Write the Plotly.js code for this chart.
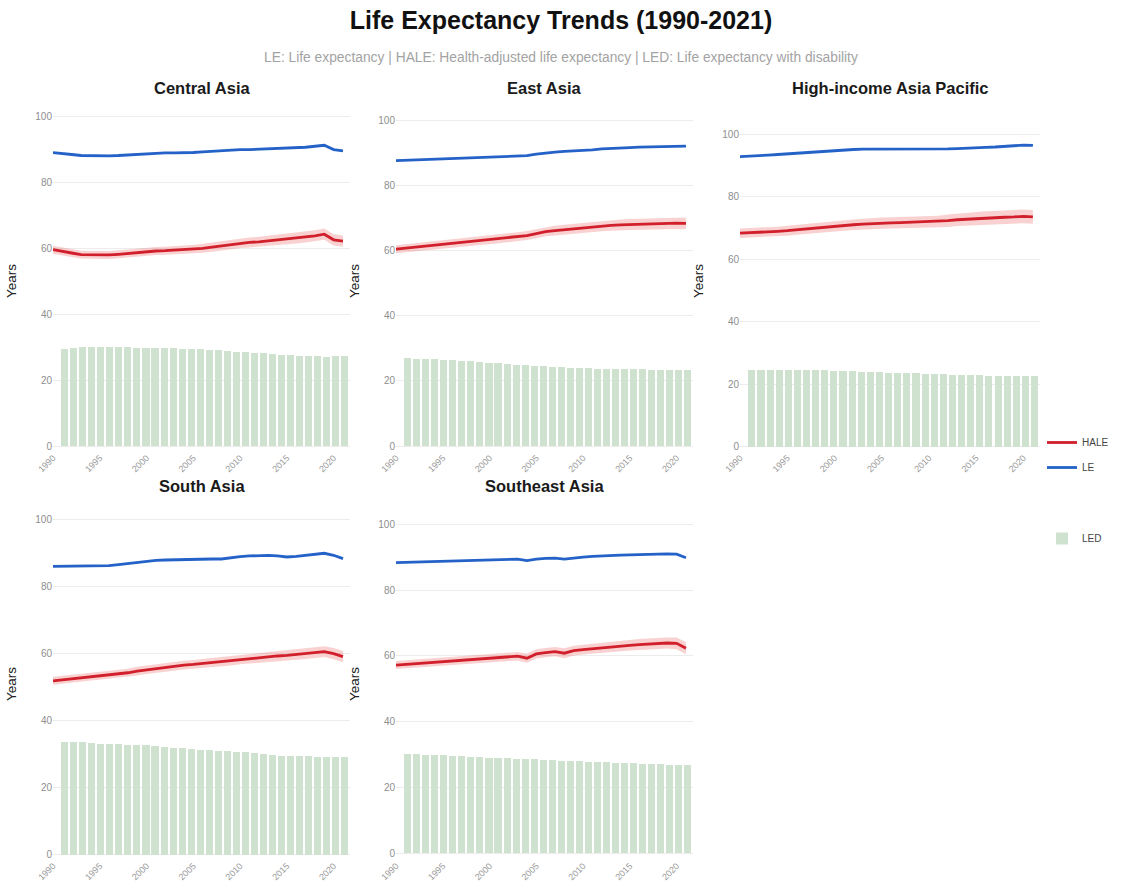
<!DOCTYPE html>
<html>
<head>
<meta charset="utf-8">
<script src="https://cdn.plot.ly/plotly-3.0.1.min.js"></script>
<style>
html,body{margin:0;padding:0;background:#ffffff;}
#chart{width:1122px;height:883px;}
</style>
</head>
<body>
<div id="chart"></div>
<script>
// ---------------- DATA ----------------
const years = [1990,1991,1992,1993,1994,1995,1996,1997,1998,1999,2000,2001,2002,2003,2004,2005,2006,2007,2008,2009,2010,2011,2012,2013,2014,2015,2016,2017,2018,2019,2020,2021];
const xTickVals = [1990,1995,2000,2005,2010,2015,2020];
const xTickText = ["1990","1995","2000","2005","2010","2015","2020"];
const yTickVals = [0,20,40,60,80,100];
const regionNames = ["Central Asia","East Asia","High-income Asia Pacific","South Asia","Southeast Asia"];

// Central Asia
const centralAsiaLE = [89.1,88.9,88.5,88.2,88.1,88.1,88.1,88.2,88.4,88.6,88.8,88.9,89.0,89.0,89.0,89.1,89.3,89.5,89.6,89.8,90.0,90.0,90.1,90.2,90.3,90.4,90.5,90.7,91.0,91.3,90.0,89.6];
const centralAsiaHALE = [59.6,59.2,58.6,58.1,58.0,58.0,58.0,58.2,58.5,58.8,59.0,59.2,59.3,59.5,59.6,59.7,60.0,60.4,60.8,61.2,61.5,61.8,62.0,62.3,62.6,62.8,63.1,63.4,63.8,64.3,62.6,62.2];
const centralAsiaHALELow = [58.4,58.0,57.4,56.9,56.8,56.8,56.8,57.0,57.3,57.6,57.8,58.0,58.1,58.2,58.3,58.4,58.7,59.0,59.4,59.8,60.1,60.3,60.5,60.8,61.0,61.2,61.5,61.8,62.1,62.6,60.9,60.5];
const centralAsiaHALEHigh = [60.8,60.4,59.8,59.3,59.2,59.2,59.2,59.4,59.7,60.0,60.2,60.4,60.5,60.8,60.9,61.0,61.3,61.8,62.2,62.6,62.9,63.3,63.5,63.8,64.2,64.4,64.7,65.0,65.5,66.0,64.3,63.9];
const centralAsiaLED = [29.6,29.8,30.0,30.1,30.1,30.1,30.1,30.0,29.9,29.8,29.8,29.7,29.7,29.5,29.4,29.4,29.3,29.1,28.8,28.6,28.5,28.2,28.1,27.9,27.7,27.6,27.4,27.3,27.2,27.1,27.2,27.2];

// East Asia
const eastAsiaLE = [87.6,87.7,87.8,87.9,88.0,88.1,88.2,88.3,88.4,88.5,88.6,88.7,88.8,88.9,89.1,89.6,90.0,90.2,90.4,90.5,90.7,90.9,91.2,91.4,91.5,91.6,91.7,91.8,91.8,91.9,92.0,92.0];
const eastAsiaHALE = [60.4,60.7,61.0,61.3,61.6,61.8,62.2,62.5,62.8,63.0,63.2,63.5,63.8,64.2,64.6,65.2,65.8,66.1,66.4,66.7,66.9,67.2,67.5,67.7,67.9,68.0,68.1,68.2,68.3,68.3,68.4,68.3];
const eastAsiaHALELow = [59.2,59.5,59.8,60.1,60.4,60.6,61.0,61.2,61.5,61.7,61.9,62.2,62.5,62.8,63.2,63.8,64.4,64.6,64.9,65.2,65.4,65.6,65.9,66.1,66.3,66.3,66.4,66.5,66.6,66.6,66.6,66.5];
const eastAsiaHALEHigh = [61.6,61.9,62.2,62.5,62.8,63.0,63.4,63.8,64.1,64.3,64.5,64.8,65.1,65.6,66.0,66.6,67.2,67.6,67.9,68.2,68.4,68.8,69.1,69.3,69.5,69.7,69.8,69.9,70.0,70.0,70.2,70.1];
const eastAsiaLED = [26.9,26.8,26.7,26.6,26.5,26.3,26.2,26.0,25.8,25.6,25.4,25.2,25.0,24.8,24.6,24.5,24.3,24.2,24.1,24.0,23.9,23.8,23.7,23.6,23.6,23.5,23.5,23.4,23.4,23.4,23.3,23.3];

// High-income Asia Pacific
const highIncomeLE = [92.8,92.9,93.1,93.3,93.5,93.7,94.0,94.2,94.4,94.7,94.9,95.0,95.1,95.2,95.2,95.3,95.3,95.3,95.3,95.3,95.2,95.1,95.3,95.4,95.6,95.7,95.8,95.9,96.1,96.2,96.5,96.4];
const highIncomeHALE = [68.3,68.4,68.6,68.8,68.9,69.1,69.4,69.7,70.0,70.3,70.6,70.8,71.0,71.2,71.4,71.5,71.6,71.7,71.8,71.9,72.0,72.0,72.3,72.6,72.8,73.0,73.2,73.3,73.4,73.5,73.7,73.5];
const highIncomeHALELow = [66.8,66.9,67.1,67.3,67.4,67.5,67.8,68.1,68.4,68.7,68.9,69.1,69.3,69.5,69.6,69.7,69.8,69.9,70.0,70.0,70.1,70.1,70.3,70.6,70.7,70.9,71.1,71.2,71.2,71.3,71.5,71.3];
const highIncomeHALEHigh = [69.8,69.9,70.1,70.3,70.4,70.7,71.0,71.3,71.6,71.9,72.3,72.5,72.7,72.9,73.2,73.3,73.4,73.5,73.6,73.8,73.9,73.9,74.3,74.6,74.9,75.1,75.3,75.4,75.6,75.7,75.9,75.7];
const highIncomeLED = [24.5,24.5,24.5,24.5,24.5,24.5,24.5,24.4,24.4,24.3,24.2,24.1,24.0,23.9,23.8,23.7,23.6,23.5,23.4,23.3,23.2,23.1,23.0,22.9,22.8,22.8,22.7,22.7,22.7,22.6,22.7,22.6];

// South Asia
const southAsiaLE = [86.0,86.0,86.1,86.2,86.2,86.0,86.2,86.5,86.8,87.3,87.6,87.8,87.9,88.0,88.1,88.2,88.3,88.2,88.2,88.6,88.9,89.1,89.2,89.3,89.1,88.8,89.0,89.3,89.6,89.9,89.3,88.3];
const southAsiaHALE = [51.9,52.2,52.5,52.8,53.1,53.3,53.7,54.0,54.3,54.8,55.2,55.6,55.9,56.3,56.6,56.8,57.1,57.3,57.6,57.9,58.2,58.5,58.8,59.1,59.3,59.5,59.8,60.0,60.3,60.6,60.0,59.1];
const southAsiaHALELow = [50.7,51.0,51.3,51.6,51.9,52.1,52.5,52.8,53.1,53.5,53.9,54.3,54.6,55.0,55.3,55.5,55.7,55.9,56.2,56.5,56.8,57.0,57.3,57.6,57.8,58.0,58.2,58.4,58.7,59.0,58.3,57.4];
const southAsiaHALEHigh = [53.1,53.4,53.7,54.0,54.3,54.5,54.9,55.2,55.5,56.1,56.5,56.9,57.2,57.6,57.9,58.1,58.5,58.7,59.0,59.3,59.6,60.0,60.3,60.6,60.8,61.0,61.4,61.6,61.9,62.2,61.7,60.8];
const southAsiaLED = [33.8,33.8,33.6,33.4,33.2,33.0,33.0,32.9,32.8,32.7,32.6,32.3,32.0,31.8,31.6,31.4,31.2,31.0,30.9,30.8,30.6,30.3,30.0,29.8,29.6,29.5,29.4,29.4,29.3,29.3,29.3,29.3];

// Southeast Asia
const southeastAsiaLE = [88.3,88.4,88.5,88.6,88.7,88.8,88.9,89.0,89.1,89.1,89.2,89.2,89.3,89.4,88.9,89.4,89.6,89.7,89.4,89.8,90.0,90.2,90.4,90.5,90.6,90.7,90.8,90.9,91.0,91.0,90.9,89.8];
const southeastAsiaHALE = [57.2,57.4,57.6,57.9,58.1,58.3,58.5,58.7,58.9,59.1,59.3,59.5,59.7,59.9,59.3,60.6,61.0,61.3,60.8,61.6,61.9,62.2,62.5,62.8,63.0,63.2,63.4,63.6,63.8,63.9,63.8,62.3];
const southeastAsiaHALELow = [56.0,56.2,56.4,56.7,56.9,57.1,57.3,57.5,57.7,57.8,58.0,58.2,58.4,58.6,57.9,59.2,59.6,59.9,59.3,60.1,60.4,60.7,60.9,61.2,61.4,61.6,61.7,61.9,62.1,62.2,62.0,60.5];
const southeastAsiaHALEHigh = [58.4,58.6,58.8,59.1,59.3,59.5,59.7,59.9,60.1,60.4,60.6,60.8,61.0,61.2,60.7,62.0,62.4,62.7,62.3,63.1,63.4,63.7,64.1,64.4,64.6,64.8,65.1,65.3,65.5,65.6,65.6,64.1];
const southeastAsiaLED = [30.2,30.1,30.0,29.9,29.8,29.6,29.5,29.4,29.3,29.1,29.0,28.9,28.8,28.7,28.8,28.5,28.3,28.2,28.1,28.0,27.9,27.8,27.7,27.6,27.5,27.4,27.3,27.2,27.1,27.0,26.9,26.8];

// ---------------- BUILD ----------------
const W = 1122, H = 883;
const FONT = "Liberation Sans, Arial, Helvetica, sans-serif";
const C_HALE = "#d11f2b";
const C_LE = "#2462c8";
const C_BAND = "rgba(232,90,90,0.28)";
const C_LED = "#cfe2cf";

const panels = [
  {le: centralAsiaLE, hale: centralAsiaHALE, lo: centralAsiaHALELow, hi: centralAsiaHALEHigh, led: centralAsiaLED, px:[53,350], py:[112,450], yr:[-1.2,101.4]},
  {le: eastAsiaLE, hale: eastAsiaHALE, lo: eastAsiaHALELow, hi: eastAsiaHALEHigh, led: eastAsiaLED, px:[396,693], py:[112,450], yr:[-1.2,102.5]},
  {le: highIncomeLE, hale: highIncomeHALE, lo: highIncomeHALELow, hi: highIncomeHALEHigh, led: highIncomeLED, px:[740,1040], py:[112,450], yr:[-1.1,107.1]},
  {le: southAsiaLE, hale: southAsiaHALE, lo: southAsiaHALELow, hi: southAsiaHALEHigh, led: southAsiaLED, px:[53,350], py:[510,858], yr:[-0.9,102.8]},
  {le: southeastAsiaLE, hale: southeastAsiaHALE, lo: southeastAsiaHALELow, hi: southeastAsiaHALEHigh, led: southeastAsiaLED, px:[396,693], py:[510,858], yr:[-1.4,104.3]}
];

const traces = [];
const layout = {
  width: W, height: H,
  margin: {l:0, r:0, t:0, b:0},
  paper_bgcolor: "#ffffff",
  plot_bgcolor: "#ffffff",
  font: {family: FONT, color: "#333"},
  showlegend: true,
  bargap: 0,
  title: {
    text: "Life Expectancy Trends (1990-2021)",
    x: 0.5, xanchor: "center",
    y: 1 - 20/H, yanchor: "middle",
    font: {family: FONT, size: 25, weight: "bold", color: "#111"}
  },
  legend: {
    x: 1042/W, xanchor: "left", y: 1 - 428/H, yanchor: "top",
    font: {family: FONT, size: 10, color: "#444"},
    bgcolor: "rgba(0,0,0,0)", tracegroupgap: 6
  },
  legend2: {
    x: 1042/W, xanchor: "left", y: 1 - 524/H, yanchor: "top",
    font: {family: FONT, size: 10, color: "#444"},
    bgcolor: "rgba(0,0,0,0)"
  },
  annotations: [
    {text: "LE: Life expectancy | HALE: Health-adjusted life expectancy | LED: Life expectancy with disability",
     xref: "paper", yref: "paper", x: 0.5, y: 1 - 58/H, xanchor: "center", yanchor: "middle",
     showarrow: false, font: {family: FONT, size: 13.8, color: "#a3a3a3"}}
  ]
};

panels.forEach((p, k) => {
  const i = k + 1;
  const xa = i === 1 ? "x" : "x" + i;
  const ya = i === 1 ? "y" : "y" + i;
  const xb = "x" + (i + 5);
  const first = (i === 1);

  traces.push({type: "bar", x: years, y: p.led, xaxis: xb, yaxis: ya, width: 0.78,
    marker: {color: C_LED, line: {width: 0}}, name: "LED", legend: "legend2",
    showlegend: first, hoverinfo: "skip"});
  traces.push({type: "scatter", mode: "lines", x: years, y: p.lo, xaxis: xa, yaxis: ya,
    line: {width: 0, color: C_BAND}, showlegend: false, hoverinfo: "skip"});
  traces.push({type: "scatter", mode: "lines", x: years, y: p.hi, xaxis: xa, yaxis: ya,
    line: {width: 0, color: C_BAND}, fill: "tonexty", fillcolor: C_BAND, showlegend: false, hoverinfo: "skip"});
  traces.push({type: "scatter", mode: "lines", x: years, y: p.hale, xaxis: xa, yaxis: ya,
    line: {width: 2.8, color: C_HALE}, name: "HALE", legendgroup: "HALE", showlegend: first});
  traces.push({type: "scatter", mode: "lines", x: years, y: p.le, xaxis: xa, yaxis: ya,
    line: {width: 2.8, color: C_LE}, name: "LE", legendgroup: "LE", showlegend: first});

  const xdom = [p.px[0]/W, p.px[1]/W];
  const ydom = [1 - p.py[1]/H, 1 - p.py[0]/H];

  layout[i === 1 ? "xaxis" : "xaxis" + i] = {
    domain: xdom, anchor: ya, range: [1990, 2021.75],
    tickmode: "array", tickvals: xTickVals, ticktext: xTickText, tickangle: -45,
    tickfont: {family: FONT, size: 9, color: "#9a9a9a"},
    showgrid: false, zeroline: false, showline: false, ticks: "", fixedrange: true
  };
  layout["xaxis" + (i + 5)] = {
    overlaying: xa, anchor: ya, range: [1988.7, 2021.6], visible: false,
    showgrid: false, zeroline: false, fixedrange: true
  };
  layout[i === 1 ? "yaxis" : "yaxis" + i] = {
    domain: ydom, anchor: xa, range: p.yr,
    tickmode: "array", tickvals: yTickVals,
    tickfont: {family: FONT, size: 10, color: "#8e8e8e"},
    showgrid: true, gridcolor: "#ececec", gridwidth: 1,
    zeroline: false, showline: false, ticks: "", fixedrange: true,
    title: {text: "Years", font: {family: FONT, size: 13.5, color: "#222"}}
  };

  layout.annotations.push({
    text: regionNames[k], xref: "paper", yref: "paper",
    x: (xdom[0] + xdom[1]) / 2, y: 1 - (p.py[0] - 24)/H,
    xanchor: "center", yanchor: "middle", showarrow: false,
    font: {family: FONT, size: 16.5, weight: "bold", color: "#1a1a1a"}
  });
});

Plotly.newPlot("chart", traces, layout, {displayModeBar: false, staticPlot: true});
</script>
</body>
</html>
